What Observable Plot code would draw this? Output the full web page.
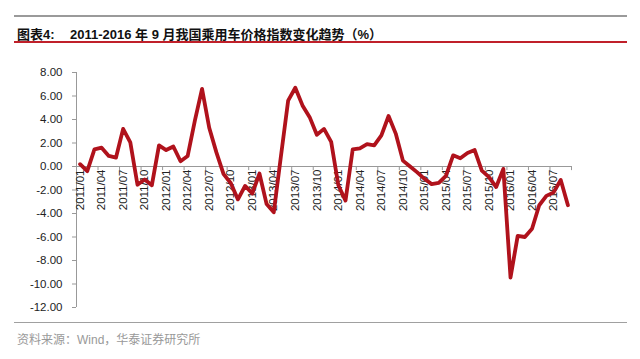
<!DOCTYPE html>
<html><head><meta charset="utf-8">
<script src="https://cdn.jsdelivr.net/npm/d3@7"></script>
<script src="https://cdn.jsdelivr.net/npm/@observablehq/plot@0.6"></script>
<style>
body{margin:0;background:#fff;}
#wrap{position:relative;width:640px;height:359px;overflow:hidden;background:#fff;font-family:"Liberation Sans",Arial,"Noto Sans CJK SC",sans-serif;}
.topline{position:absolute;left:14px;width:613px;top:15px;height:2px;background:#9a9a9a;}
.title{position:absolute;left:17px;top:24px;font-size:13px;font-weight:bold;color:#111;white-space:nowrap;font-family:"Liberation Sans",Arial,"Noto Sans CJK SC",sans-serif;}
.title .t2{position:absolute;left:53px;top:0;}
.redline{position:absolute;left:14px;width:613px;top:41px;height:1.5px;background:#c0202a;}
#chart{position:absolute;left:0;top:55px;}
.botline{position:absolute;left:14px;width:613px;top:322px;height:1px;background:#a0a0a0;}
.source{position:absolute;left:17px;top:330px;font-size:12px;color:#999;white-space:nowrap;}
#chart g[aria-label="y-axis tick"]{stroke:#999;}
</style></head><body>
<div id="wrap">
 <div class="topline"></div>
 <div class="title"><span>图表4:</span><span class="t2">2011-2016 年 9 月我国乘用车价格指数变化趋势（%）</span></div>
 <div class="redline"></div>
 <div id="chart"></div>
 <div class="botline"></div>
 <div class="source">资料来源：Wind，华泰证券研究所</div>
</div>
<script>
const months = [
 "2011/01","2011/02","2011/03","2011/04","2011/05","2011/06","2011/07","2011/08","2011/09","2011/10","2011/11","2011/12",
 "2012/01","2012/02","2012/03","2012/04","2012/05","2012/06","2012/07","2012/08","2012/09","2012/10","2012/11","2012/12",
 "2013/01","2013/02","2013/03","2013/04","2013/05","2013/06","2013/07","2013/08","2013/09","2013/10","2013/11","2013/12",
 "2014/01","2014/02","2014/03","2014/04","2014/05","2014/06","2014/07","2014/08","2014/09","2014/10","2014/11","2014/12",
 "2015/01","2015/02","2015/03","2015/04","2015/05","2015/06","2015/07","2015/08","2015/09","2015/10","2015/11","2015/12",
 "2016/01","2016/02","2016/03","2016/04","2016/05","2016/06","2016/07","2016/08","2016/09"
];
const values = [
 0.2,-0.4,1.45,1.6,0.9,0.75,3.2,2.05,-1.55,-1.1,-1.6,1.8,
 1.4,1.7,0.45,0.9,3.9,6.6,3.3,1.2,-0.65,-1.4,-2.8,-1.65,
 -2.3,-0.6,-3.2,-3.9,0.9,5.6,6.7,5.2,4.2,2.7,3.2,2.1,
 -1.6,-2.9,1.45,1.55,1.9,1.8,2.65,4.3,2.8,0.5,0.0,-0.5,
 -1.05,-1.5,-1.4,-0.8,0.95,0.7,1.15,1.4,-0.35,-0.9,-1.75,-0.2,
 -9.45,-5.9,-6.0,-5.3,-3.3,-2.5,-2.2,-1.15,-3.3
];
const xTickLabels = ["2011/01","2011/04","2011/07","2011/10","2012/01","2012/04","2012/07","2012/10",
 "2013/01","2013/04","2013/07","2013/10","2014/01","2014/04","2014/07","2014/10",
 "2015/01","2015/04","2015/07","2015/10","2016/01","2016/04","2016/07"];
const yTicks = [-12,-10,-8,-6,-4,-2,0,2,4,6,8];

const data = months.map((m, i) => ({i, month: m, v: values[i]}));
const labelIdx = xTickLabels.map(l => months.indexOf(l));
const tickPos = labelIdx.map(i => i - 0.5).concat([months.length - 0.5]);
const x0 = -0.5, x1 = months.length - 0.5;

const chart = Plot.plot({
  width: 640, height: 262,
  marginLeft: 76, marginRight: 69, marginTop: 17, marginBottom: 10,
  style: {fontFamily: '"Liberation Sans", Arial, sans-serif', fontSize: "11.5px", color: "#222", background: "transparent"},
  x: {domain: [x0, x1], axis: null},
  y: {domain: [-12, 8], ticks: yTicks, tickFormat: d => d.toFixed(2), tickSize: 4, tickPadding: 10, label: null},
  marks: [
    Plot.ruleX([x0], {y1: -12, y2: 8, stroke: "#999"}),
    Plot.ruleY([0], {x1: x0, x2: x1, stroke: "#999"}),
    Plot.ruleX(tickPos, {x: d => d, y1: 0, y2: -0.35, stroke: "#999"}),
    Plot.text(labelIdx, {x: d => d, y: 0, text: (d, j) => xTickLabels[j], rotate: -90, textAnchor: "end", dy: 3, fontSize: 11.5, fill: "#222"}),
    Plot.line(data, {x: "i", y: "v", stroke: "#B0121C", strokeWidth: 3.8, strokeLinejoin: "round", strokeLinecap: "round"})
  ]
});
document.getElementById("chart").append(chart);
</script>
</body></html>
